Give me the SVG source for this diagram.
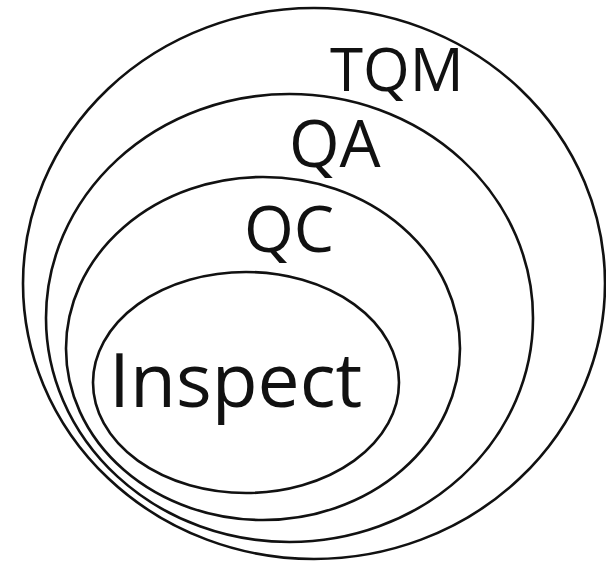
<svg xmlns="http://www.w3.org/2000/svg" width="606" height="561" viewBox="0 0 606 561">
<style>
.ring{fill:none;stroke:#111;stroke-width:2.6}
.lbl{font-family:"Open Sans","Liberation Sans",sans-serif;fill:#111}
</style>
<rect width="606" height="561" fill="#fff"/>
<g id="tqm">
<ellipse class="ring" cx="314" cy="283.5" rx="291" ry="275.5"/>
<text class="lbl" x="330" y="91" font-size="60">TQM</text>
</g>
<g id="qa">
<ellipse class="ring" cx="289.5" cy="318" rx="243.5" ry="224"/>
<text class="lbl" x="289" y="167" font-size="65">QA</text>
</g>
<g id="qc">
<ellipse class="ring" cx="263" cy="348.5" rx="197" ry="171.5"/>
<text class="lbl" x="244" y="252" font-size="64">QC</text>
</g>
<g id="inspect">
<ellipse class="ring" cx="246" cy="382.5" rx="153" ry="110.5"/>
<text class="lbl" x="109" y="407" font-size="75">Inspect</text>
</g>
<g id="connectors"/>
</svg>
